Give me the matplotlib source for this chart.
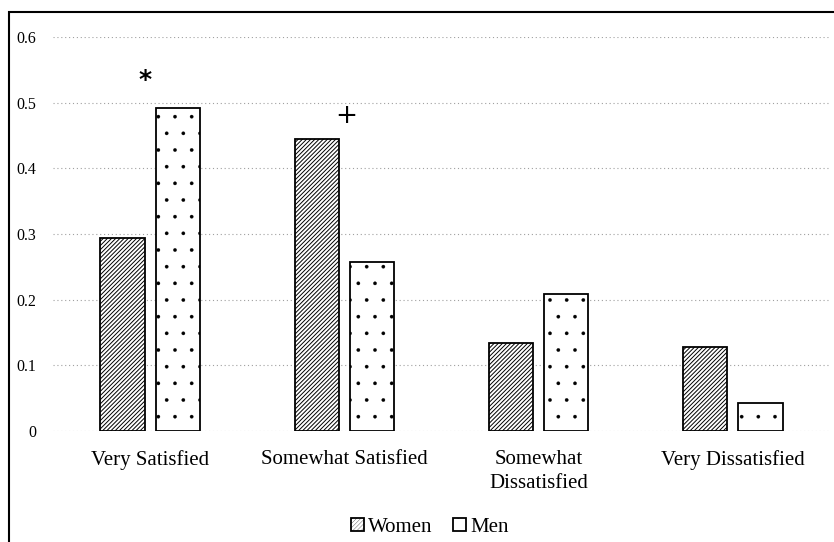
import matplotlib.pyplot as plt
from matplotlib.patches import Rectangle
import numpy as np

categories = ["Very Satisfied", "Somewhat Satisfied", "Somewhat\nDissatisfied", "Very Dissatisfied"]
women = [0.294, 0.445, 0.134, 0.128]
men = [0.492, 0.258, 0.209, 0.043]
yticks = [0, 0.1, 0.2, 0.3, 0.4, 0.5, 0.6]
ytick_labels = ["0", "0.1", "0.2", "0.3", "0.4", "0.5", "0.6"]
# significance markers: (category index, symbol, height)
markers = [(0, "*", 0.535), (1, "+", 0.48)]

plt.rcParams['font.family'] = ['Liberation Serif', 'DejaVu Serif']

fig = plt.figure(figsize=(8.34, 5.42), dpi=100)
ax = fig.add_axes([53 / 834, 1 - 431 / 542, 777 / 834, 394 / 542])

x = np.arange(len(categories))
w = 0.227
off = 0.142
plt.rcParams['hatch.linewidth'] = 0.7
ax.bar(x - off, women, w, color='white', edgecolor='black', hatch='/' * 8, linewidth=1.3, label='Women', zorder=3)
plt.rcParams['hatch.linewidth'] = 0.2
ax.bar(x + off, men, w, color='white', edgecolor='black', hatch='.', linewidth=1.3, label='Men', zorder=3)

for i, sym, h in markers:
    if sym == "*":
        ax.text(i - 0.025, h, sym, ha='center', va='center', fontsize=18, fontweight='bold',
                family=['DejaVu Sans'])
    else:
        ax.text(i + 0.01, h, sym, ha='center', va='center', fontsize=19, family=['DejaVu Sans'])

ax.set_xlim(-0.5, 3.5)
ax.set_ylim(0, 0.6)
ax.set_yticks(yticks)
ax.set_yticklabels(ytick_labels, fontsize=11.5)
ax.set_xticks(x)
ax.set_xticklabels(categories, fontsize=15, linespacing=1.35)
ax.tick_params(axis='both', length=0)
ax.tick_params(axis='x', pad=14)
ax.tick_params(axis='y', pad=12)
for s in ax.spines.values():
    s.set_visible(False)
ax.grid(axis='y', color='#a0a0a0', linestyle=(0, (1, 2.5)), linewidth=0.8, zorder=0)
ax.set_axisbelow(True)

fig.legend(loc='center', bbox_to_anchor=(430 / 834, 1 - 527 / 542), ncol=2, frameon=False,
           fontsize=15, handlelength=0.6, handleheight=0.6, handletextpad=0.2, columnspacing=1.0)

fig.patches.append(Rectangle((9 / 834, -0.05), 1.1, 1 - 12 / 542 + 0.05, transform=fig.transFigure,
                             fill=False, edgecolor='black', linewidth=1.5))

fig.savefig('out.png', dpi=100)
